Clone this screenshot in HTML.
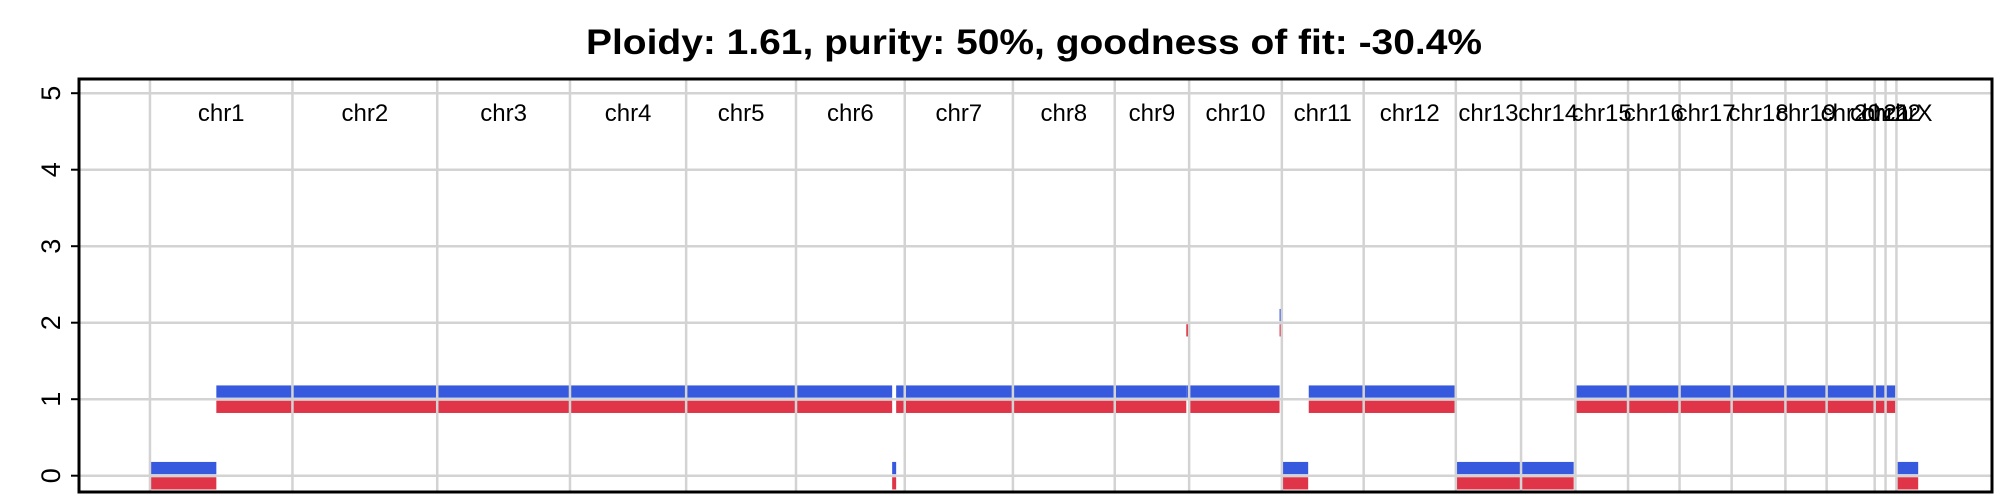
<!DOCTYPE html>
<html><head><meta charset="utf-8"><style>
html,body{margin:0;padding:0;background:#fff;}
svg{display:block;font-family:"Liberation Sans",Arial,sans-serif;}
</style></head><body>
<svg id="chart" width="2000" height="500" viewBox="0 0 2000 500" xmlns="http://www.w3.org/2000/svg">
<text x="1034" y="54" text-anchor="middle" font-size="35" font-weight="bold" textLength="896" lengthAdjust="spacingAndGlyphs">Ploidy: 1.61, purity: 50%, goodness of fit: -30.4%</text>
<g id="marks"></g><g id="grid"></g><g id="labels"></g><g id="axis"></g>
</svg>
<script>
const chrNames = ["chr1","chr2","chr3","chr4","chr5","chr6","chr7","chr8","chr9","chr10","chr11","chr12","chr13","chr14","chr15","chr16","chr17","chr18","chr19","chr20","chr21","chr22","chrX"];
const chrStarts = [0,249,502,734,937,1129,1319,1508,1686,1816,1978,2121,2282,2396,2491,2583,2673,2764,2858,2930,3014,3033,3052];
const genomeEnd = 3092;
const segStart = [0,116,1297,1304,1811,1816,1974,1978,2025,2283,2491,3054];
const segEnd   = [116,1297,1304,1811,1816,1974,1977,2024,2280,2488,3050,3090];
const majorCN  = [0,1,0,1,1,1,2,0,1,0,1,0];
const minorCN  = [0,1,0,1,2,1,2,0,1,0,1,0];
const yTicks = [0,1,2,3,4,5];

const NS="http://www.w3.org/2000/svg";
const L=79,R=1992,T=79,B=492;
const xDom=[-124,3219];
const x=v=>L+(v-xDom[0])/(xDom[1]-xDom[0])*(R-L);
const y=v=>475.7-76.5*v;
function mk(tag,attrs,parent){const e=document.createElementNS(NS,tag);for(const k in attrs)e.setAttribute(k,attrs[k]);parent.appendChild(e);return e;}
const grid=document.getElementById('grid'),marks=document.getElementById('marks'),labels=document.getElementById('labels'),axis=document.getElementById('axis');
yTicks.forEach(t=>{
  const g=mk('line',{x1:L,x2:R,y1:y(t),y2:y(t),stroke:'#d3d3d3','stroke-width':2.5},grid);
  
  
  const tk=mk('line',{x1:71,x2:L,y1:y(t),y2:y(t),stroke:'#000','stroke-width':2},axis);
  
  
  const tx=mk('text',{x:0,y:0,'font-size':27,'text-anchor':'middle',transform:`translate(60,${y(t)}) rotate(-90)`},axis);
  tx.textContent=t;
  
  
});
chrStarts.forEach((s,i)=>{
  const g=mk('line',{x1:x(s),x2:x(s),y1:T,y2:B,stroke:'#d3d3d3','stroke-width':2.5},grid);
  
  
  const e=i+1<chrStarts.length?chrStarts[i+1]:genomeEnd;
  const tx=mk('text',{x:(x(s)+x(e))/2,y:121,'font-size':24,'text-anchor':'middle'},labels);
  tx.textContent=chrNames[i];
  
  
});
segStart.forEach((s,i)=>{
  const x1=x(s),w=Math.max(1.5,x(segEnd[i])-x1);
  const b=mk('rect',{x:x1,y:y(majorCN[i]+0.18),width:w,height:y(majorCN[i]+0.02)-y(majorCN[i]+0.18),fill:'#3659de'},marks);
  
  
  const r=mk('rect',{x:x1,y:y(minorCN[i]-0.02),width:w,height:y(minorCN[i]-0.18)-y(minorCN[i]-0.02),fill:'#e03548'},marks);
  
  
});
const box=mk('rect',{x:L,y:T,width:R-L,height:B-T,fill:'none',stroke:'#000','stroke-width':3},axis);


</script>
</body></html>
